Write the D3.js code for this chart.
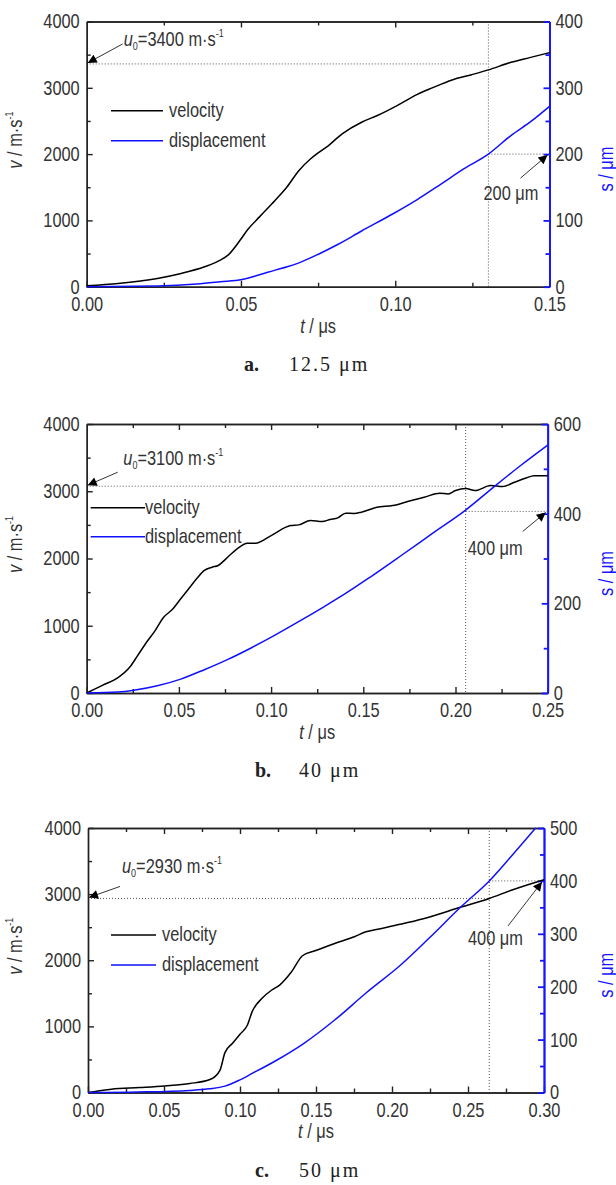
<!DOCTYPE html>
<meta charset="utf-8">
<style>
body { margin: 0; background: #fff; }
text { font-family: "Liberation Sans", Arial, sans-serif; fill: #333; }
.axis text { font-size: 20px; fill: #333; }
.axis path, .axis line { stroke: #222; stroke-width: 1.4; }
.raxis path, .raxis line { stroke: #1515ff; stroke-width: 1.8; }
.cap { font-family: "Liberation Serif", "DejaVu Serif", serif; fill: #222; font-size: 20px; }
.guide { stroke: #555; stroke-width: 1; stroke-dasharray: 1,2; fill: none; }
</style>
<body>
<script src="https://d3js.org/d3.v7.min.js"></script>
<script>

// ---- data: [t (µs), value] ----
var velA = [[0,15],[0.0102,50],[0.0229,125],[0.0306,200],[0.0382,300],[0.0433,400],[0.0458,476],[0.0497,700],[0.0522,862],[0.056,1053],[0.0611,1303],[0.0649,1504],[0.0688,1754],[0.0726,1930],[0.0749,2015],[0.0777,2105],[0.0828,2306],[0.0891,2481],[0.0942,2582],[0.1006,2732],[0.107,2897],[0.112,2998],[0.1184,3118],[0.1248,3198],[0.1302,3270],[0.1375,3384],[0.1439,3459],[0.15,3530]];
var dispA = [[0,0],[0.0229,1],[0.0357,4],[0.0433,7.5],[0.0503,11],[0.056,18],[0.0611,25],[0.065,30],[0.0688,36],[0.0751,49],[0.0815,64],[0.0891,84],[0.0993,110],[0.107,131],[0.1146,154],[0.1223,178],[0.1302,200],[0.1375,228],[0.1442,250],[0.15,272]];

var velB = [[0,0],[0.0085,114],[0.017,228],[0.0234,386],[0.0277,559],[0.0319,733],[0.0372,931],[0.0415,1119],[0.0468,1252],[0.051,1401],[0.0553,1549],[0.0596,1698],[0.0638,1822],[0.068,1871],[0.0713,1896],[0.0755,1995],[0.0809,2129],[0.0872,2228],[0.0915,2228],[0.1,2341],[0.1106,2490],[0.115,2500],[0.1213,2564],[0.1277,2549],[0.132,2580],[0.1362,2604],[0.1404,2673],[0.145,2670],[0.1489,2688],[0.1574,2762],[0.166,2787],[0.1745,2851],[0.183,2911],[0.1915,2970],[0.196,2960],[0.2,3010],[0.2055,3040],[0.2106,3010],[0.2191,3084],[0.2255,3069],[0.2319,3133],[0.2383,3198],[0.2426,3232],[0.25,3232]];
var dispB = [[0,0],[0.017,2],[0.0255,6],[0.0383,16],[0.051,31],[0.0638,52],[0.0766,75],[0.0894,101],[0.1021,129],[0.1149,159],[0.1277,190],[0.1404,222],[0.1532,257],[0.17,305],[0.1875,356],[0.2055,408],[0.2215,462],[0.2355,508],[0.25,553]];

var velC = [[0,0],[0.0066,24],[0.0154,50],[0.034,75],[0.0505,100],[0.067,136],[0.0802,196],[0.0868,336],[0.0901,603],[0.0951,745],[0.1,882],[0.1049,1021],[0.108,1223],[0.1145,1424],[0.1209,1550],[0.1261,1625],[0.1339,1826],[0.1411,2068],[0.1494,2143],[0.1623,2254],[0.1752,2355],[0.1829,2430],[0.1907,2470],[0.2053,2543],[0.2206,2628],[0.2454,2804],[0.264,2935],[0.2785,3059],[0.3,3218]];
var dispC = [[0,0],[0.0331,1],[0.0667,4],[0.08,7],[0.0901,12],[0.1,24],[0.108,36],[0.1235,60],[0.1416,92],[0.1623,137],[0.1829,188],[0.2053,240],[0.2245,292],[0.2454,351],[0.264,400],[0.2795,450],[0.2945,500]];

var tMax = [0.15, 0.25, 0.30];
var sMax = [400, 600, 500];
var sMajor = [100, 200, 100];
var u0 = [3360, 3075, 2935];          // dotted level drawn in each panel
var u0Labels = ["3400", "3100", "2930"];
var tMark = [0.1302, 0.2055, 0.264];  // vertical dotted guide
var sMark = [200, 405, 400];          // horizontal dotted guide on s axis
var sMarkLabels = ["200 μm", "400 μm", "400 μm"];
var capLetters = ["a.", "b.", "c."];
var capTexts = ["12.5 μm", "40 μm", "50 μm"];

var velData = [velA, velB, velC];
var dispData = [dispA, dispB, dispC];

// panel boxes
var boxes = [
  {l: 86.7, r: 549.5, t: 21.5, b: 286.7},
  {l: 86.7, r: 547.7, t: 424, b: 693},
  {l: 88, r: 544, t: 828, b: 1092.5}
];
// layout of the annotations per panel
var lay = [
  {leg: [111, 163, 110.7, 140.7, 169], u0tail: [36, -20], u0txt: [37, -17.6], rtail: [-29, 24], rtxt: [-66, 46], capX: [244, 289]},
  {leg: [90.7, 145, 507.7, 536.7, 145], u0tail: [31, -14], u0txt: [36.6, -21], rtail: [-25, 20], rtxt: [-80, 44], capX: [255, 299]},
  {leg: [111, 156, 935, 965, 162], u0tail: [32, -12], u0txt: [34, -25], rtail: [-36, 45], rtxt: [-76, 64], capX: [255, 299]}
];

var W = 616, H = 1185;
var svg = d3.select("body").append("svg").attr("width", W).attr("height", H);

var defs = svg.append("defs");
defs.append("marker").attr("id", "arr")
  .attr("viewBox", "0 0 10 10").attr("refX", 10).attr("refY", 5)
  .attr("markerWidth", 14).attr("markerHeight", 9)
  .attr("markerUnits", "userSpaceOnUse").attr("orient", "auto")
  .append("path").attr("d", "M0,0 L10,5 L0,10 Z").attr("fill", "#000");

for (var i = 0; i < 3; i++) drawPanel(i);

// narrow look (like Arial Narrow) for all sans texts
svg.selectAll("text").each(function() {
  var t = d3.select(this);
  if (t.classed("cap")) return;
  var tr = t.attr("transform");
  if (tr) { t.attr("transform", tr + " scale(0.82,1)"); return; }
  var x = +t.attr("x") || 0, y = +t.attr("y") || 0;
  t.attr("transform", "translate(" + x + "," + y + ") scale(0.82,1) translate(" + (-x) + "," + (-y) + ")");
});

function drawPanel(i) {
  var bx = boxes[i], L = lay[i];
  var x = d3.scaleLinear().domain([0, tMax[i]]).range([bx.l, bx.r]);
  var yv = d3.scaleLinear().domain([0, 4000]).range([bx.b, bx.t]);
  var ys = d3.scaleLinear().domain([0, sMax[i]]).range([bx.b, bx.t]);
  var g = svg.append("g");

  var xMaj = d3.range(0, tMax[i] + 1e-9, 0.05);
  var xMin = d3.range(0.025, tMax[i], 0.05);

  // guides
  var xm = x(tMark[i]);
  g.append("line").attr("class", "guide").attr("x1", xm).attr("x2", xm).attr("y1", bx.t).attr("y2", bx.b);
  g.append("line").attr("class", "guide").attr("x1", bx.l).attr("x2", xm).attr("y1", yv(u0[i])).attr("y2", yv(u0[i]));
  g.append("line").attr("class", "guide").attr("x1", xm).attr("x2", bx.r).attr("y1", ys(sMark[i])).attr("y2", ys(sMark[i]));

  // bottom axis
  g.append("g").attr("class", "axis").attr("transform", "translate(0," + bx.b + ")")
    .call(d3.axisBottom(x).tickValues(xMaj).tickSize(-6).tickSizeOuter(0).tickPadding(10).tickFormat(d3.format(".2f")));
  g.append("g").attr("class", "axis").attr("transform", "translate(0," + bx.b + ")")
    .call(d3.axisBottom(x).tickValues(xMin).tickSize(-4).tickSizeOuter(0).tickFormat(""));
  // top axis
  g.append("g").attr("class", "axis").attr("transform", "translate(0," + bx.t + ")")
    .call(d3.axisTop(x).tickValues(xMaj.slice(1, -1)).tickSize(-6).tickSizeOuter(0).tickFormat(""));
  g.append("g").attr("class", "axis").attr("transform", "translate(0," + bx.t + ")")
    .call(d3.axisTop(x).tickValues(xMin).tickSize(-4).tickSizeOuter(0).tickFormat(""));
  // left axis
  g.append("g").attr("class", "axis").attr("transform", "translate(" + bx.l + ",0)")
    .call(d3.axisLeft(yv).tickValues(d3.range(0, 4001, 1000)).tickSize(-6).tickSizeOuter(0).tickPadding(7).tickFormat(d3.format("d")));
  g.append("g").attr("class", "axis").attr("transform", "translate(" + bx.l + ",0)")
    .call(d3.axisLeft(yv).tickValues(d3.range(500, 4000, 1000)).tickSize(-4).tickSizeOuter(0).tickFormat(""));
  // right axis (blue)
  var sm = sMajor[i];
  g.append("g").attr("class", "axis raxis").attr("transform", "translate(" + bx.r + ",0)")
    .call(d3.axisRight(ys).tickValues(d3.range(0, sMax[i] + 1, sm)).tickSize(-6).tickSizeOuter(0).tickPadding(6).tickFormat(d3.format("d")));
  g.append("g").attr("class", "axis raxis").attr("transform", "translate(" + bx.r + ",0)")
    .call(d3.axisRight(ys).tickValues(d3.range(sm / 2, sMax[i], sm)).tickSize(-4).tickSizeOuter(0).tickFormat(""));

  // curves
  var lineV = d3.line().curve(d3.curveMonotoneX).x(function(d) { return x(d[0]); }).y(function(d) { return yv(d[1]); });
  var lineS = d3.line().curve(d3.curveMonotoneX).x(function(d) { return x(d[0]); }).y(function(d) { return ys(d[1]); });
  g.append("path").datum(velData[i]).attr("d", lineV).attr("fill", "none").attr("stroke", "#000").attr("stroke-width", 1.5);
  g.append("path").datum(dispData[i]).attr("d", lineS).attr("fill", "none").attr("stroke", "#1010ff").attr("stroke-width", 1.5);

  // legend
  var lg = L.leg;
  g.append("line").attr("x1", lg[0]).attr("x2", lg[1]).attr("y1", lg[2]).attr("y2", lg[2]).attr("stroke", "#000").attr("stroke-width", 1.5);
  g.append("line").attr("x1", lg[0]).attr("x2", lg[1]).attr("y1", lg[3]).attr("y2", lg[3]).attr("stroke", "#1010ff").attr("stroke-width", 1.5);
  g.append("text").attr("x", lg[4]).attr("y", lg[2] + 6).attr("font-size", 20).text("velocity");
  g.append("text").attr("x", lg[4]).attr("y", lg[3] + 6).attr("font-size", 20).text("displacement");

  // u0 annotation
  var uy = yv(u0[i]);
  g.append("line").attr("x1", bx.l + L.u0tail[0]).attr("y1", uy + L.u0tail[1])
    .attr("x2", bx.l + 1).attr("y2", uy - 1).attr("stroke", "#000").attr("stroke-width", 0.8).attr("marker-end", "url(#arr)");
  var ut = g.append("text").attr("x", bx.l + L.u0txt[0]).attr("y", uy + L.u0txt[1]).attr("font-size", 20);
  ut.append("tspan").attr("font-style", "italic").text("u");
  ut.append("tspan").attr("font-size", 11).attr("dy", 4).text("0");
  ut.append("tspan").attr("dy", -4).text("=" + u0Labels[i] + " m·s");
  ut.append("tspan").attr("font-size", 11).attr("dy", -9).text("-1");

  // s annotation
  var sy = ys(sMark[i]);
  g.append("line").attr("x1", bx.r + L.rtail[0]).attr("y1", sy + L.rtail[1])
    .attr("x2", bx.r - 2).attr("y2", sy + 1).attr("stroke", "#000").attr("stroke-width", 0.8).attr("marker-end", "url(#arr)");
  g.append("text").attr("x", bx.r + L.rtxt[0]).attr("y", sy + L.rtxt[1]).attr("font-size", 20).text(sMarkLabels[i]);

  // axis titles
  var tx = g.append("text").attr("x", (bx.l + bx.r) / 2).attr("y", bx.b + 46).attr("text-anchor", "middle").attr("font-size", 20);
  tx.append("tspan").attr("font-style", "italic").text("t");
  tx.append("tspan").text(" / μs");

  var cy = (bx.t + bx.b) / 2;
  var vt = g.append("text").attr("transform", "translate(22," + (cy - 14) + ") rotate(-90)").attr("text-anchor", "middle").attr("font-size", 20);
  vt.append("tspan").attr("font-style", "italic").text("v");
  vt.append("tspan").text(" / m·s");
  vt.append("tspan").attr("font-size", 11).attr("dy", -9).text("-1");

  g.append("text").attr("transform", "translate(613," + (cy + 15) + ") rotate(-90)").attr("text-anchor", "middle")
    .attr("font-size", 20).style("fill", "#1515ff").text("s / μm");

  // caption
  g.append("text").attr("class", "cap").attr("x", L.capX[0]).attr("y", bx.b + 84).attr("font-weight", "bold").text(capLetters[i]);
  g.append("text").attr("class", "cap").attr("x", L.capX[1]).attr("y", bx.b + 84).attr("letter-spacing", 2).text(capTexts[i]);
}
</script>
</body>
